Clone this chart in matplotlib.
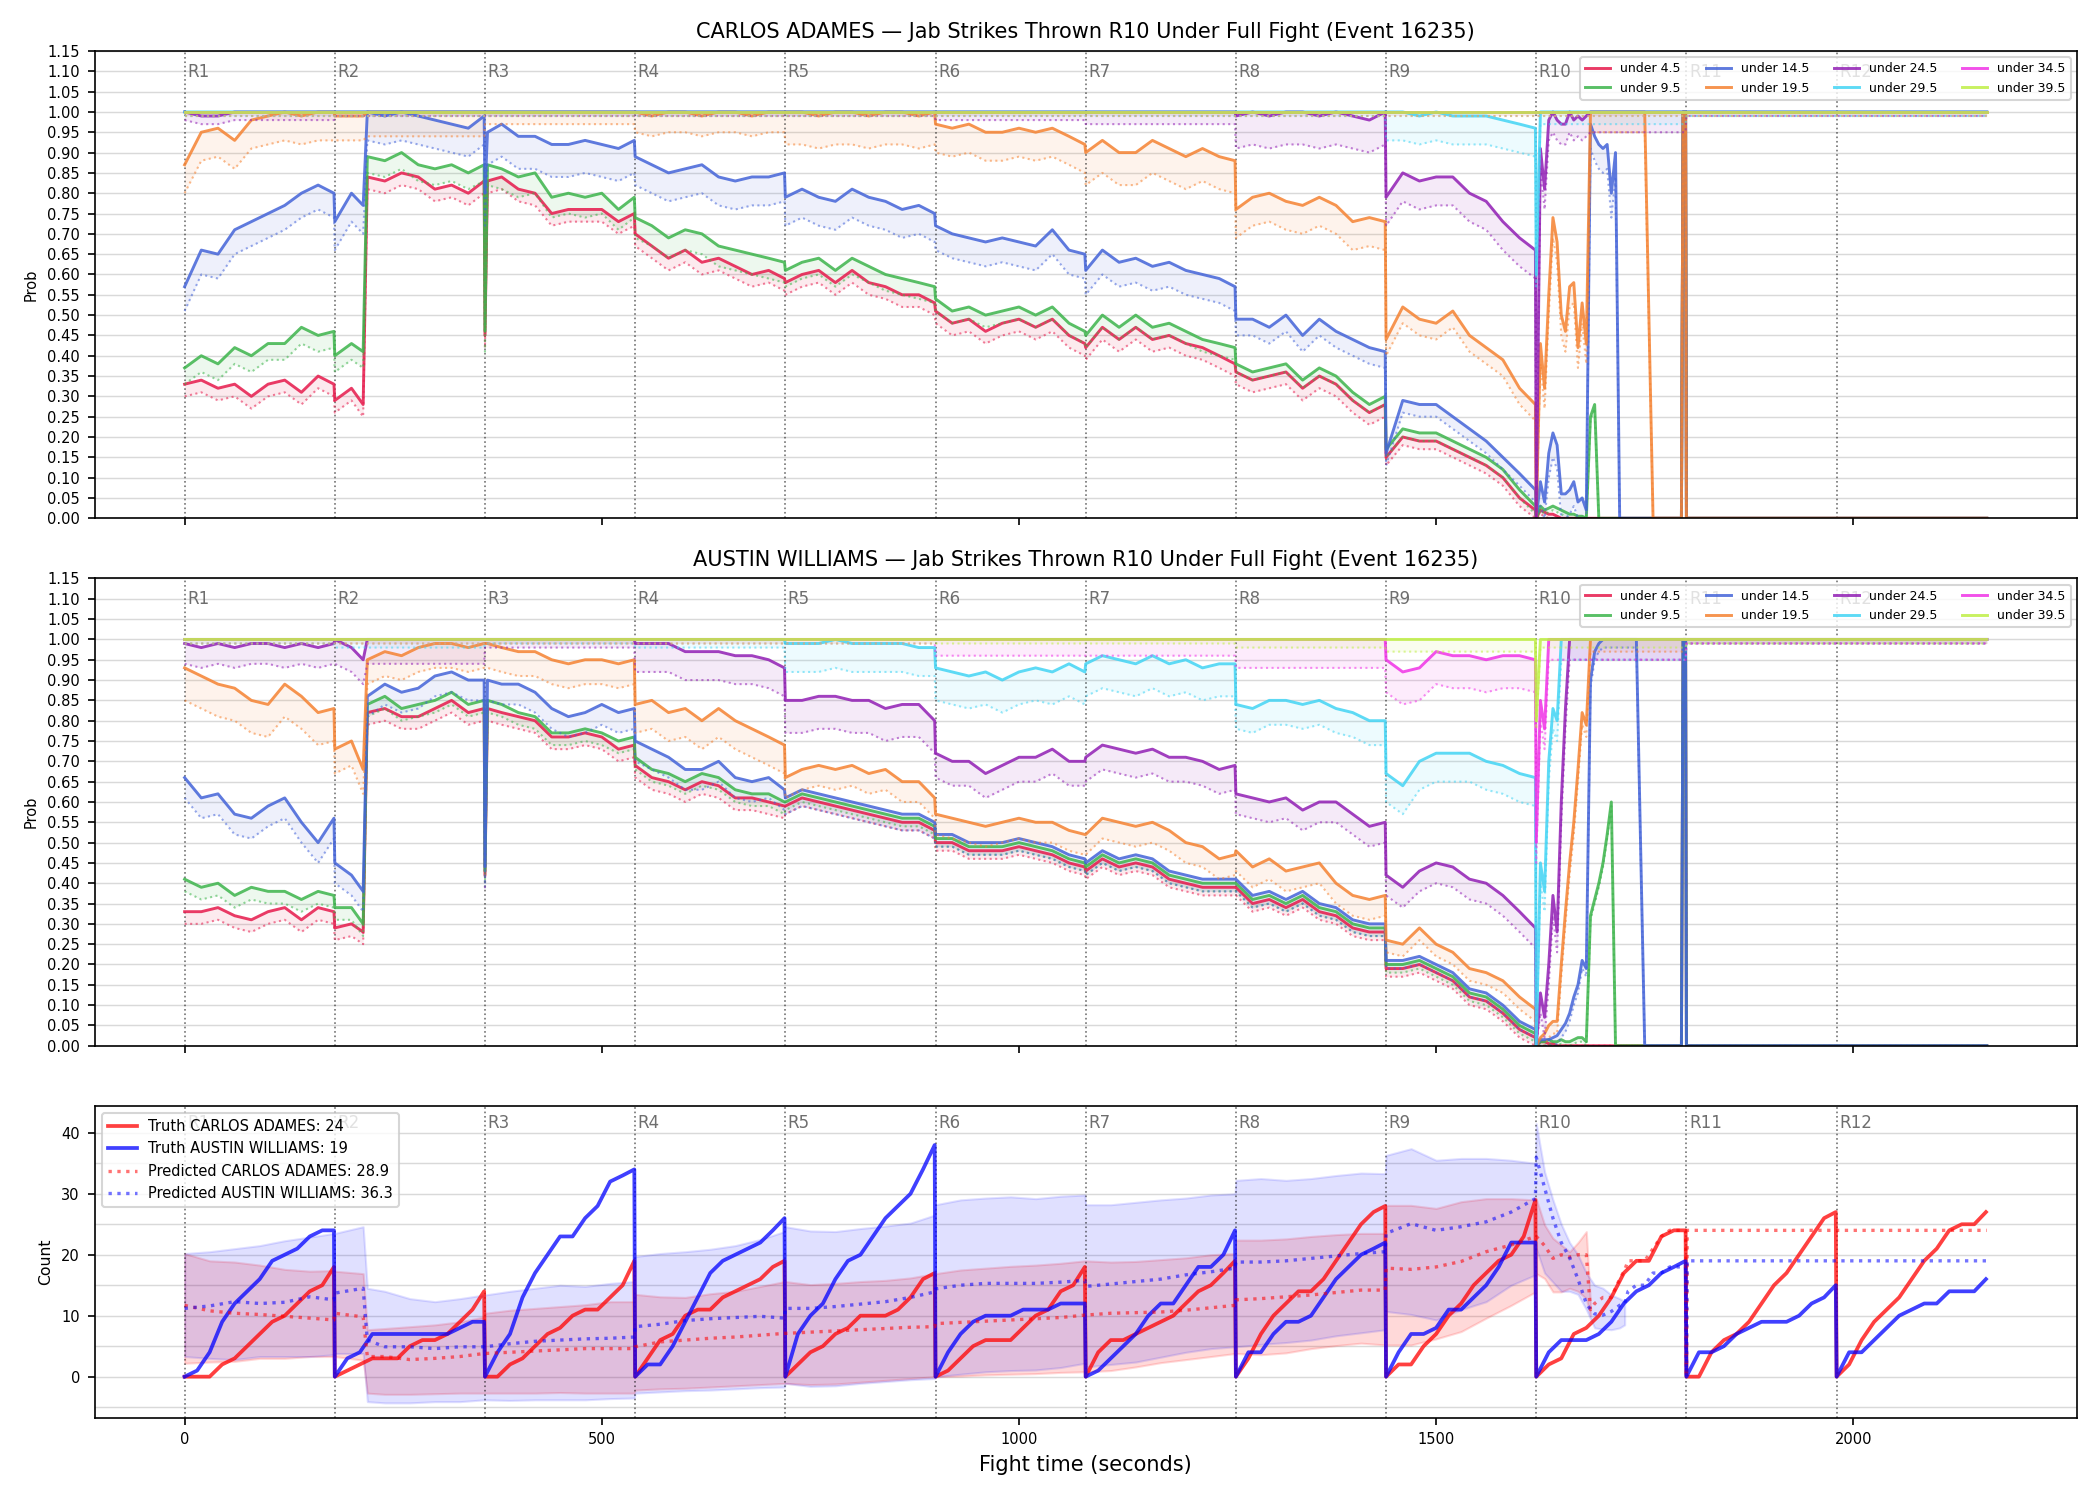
import numpy as np
import matplotlib.pyplot as plt
from matplotlib.ticker import MultipleLocator, FormatStrFormatter
from matplotlib.lines import Line2D

FIGHTER_A = 'CARLOS ADAMES'
FIGHTER_B = 'AUSTIN WILLIAMS'
TITLE_TAIL = 'Jab Strikes Thrown R10 Under Full Fight (Event 16235)'

ROUND_STARTS = [0, 180, 360, 540, 720, 900, 1080, 1260, 1440, 1620, 1800, 1980]
ROUND_LABELS = ['R1', 'R2', 'R3', 'R4', 'R5', 'R6', 'R7', 'R8', 'R9', 'R10', 'R11', 'R12']

THRESH_LABELS = ['under 4.5', 'under 9.5', 'under 14.5', 'under 19.5',
                 'under 24.5', 'under 29.5', 'under 34.5', 'under 39.5']
THRESH_COLORS = ['#e6194b', '#3cb44b', '#4363d8', '#f58231',
                 '#911eb4', '#42d4f4', '#f032e6', '#bfef45']

# sample times of the probability curves (s)
T_PROB = [
    0, 20, 40, 60, 80, 100, 120, 140, 160, 179,
    180, 200, 214, 219, 240, 260, 280, 300, 320, 340, 359,
    360, 363, 380, 400, 420, 440, 460, 480, 500, 520, 539,
    540, 560, 580, 600, 620, 640, 660, 680, 700, 719,
    720, 740, 760, 780, 800, 820, 840, 860, 880, 899,
    900, 920, 940, 960, 980, 1000, 1020, 1040, 1060, 1079,
    1080, 1100, 1120, 1140, 1160, 1180, 1200, 1220, 1240, 1259,
    1260, 1280, 1300, 1320, 1340, 1360, 1380, 1400, 1420, 1439,
    1440, 1460, 1480, 1500, 1520, 1540, 1560, 1580, 1600, 1619,
    1620, 1625, 1630, 1635, 1640, 1645, 1650, 1655, 1660, 1665, 1670, 1675, 1680,
    1685, 1690, 1695, 1700, 1705, 1710, 1715, 1720, 1730, 1740, 1750, 1760, 1770,
    1780, 1790, 1794, 1796, 1799,
    1800, 2160,
]

# ---- CARLOS ADAMES: P(R10 jabs under X) ----
c_u4 = [
    .33, .34, .32, .33, .30, .33, .34, .31, .35, .33,
    .29, .32, .28, .84, .83, .85, .84, .81, .82, .80, .83,
    .45, .83, .84, .81, .80, .75, .76, .76, .76, .73, .75,
    .70, .67, .64, .66, .63, .64, .62, .60, .61, .59,
    .58, .60, .61, .58, .61, .58, .57, .55, .55, .53,
    .51, .48, .49, .46, .48, .49, .47, .49, .45, .43,
    .42, .47, .44, .47, .44, .45, .43, .42, .40, .38,
    .36, .34, .35, .36, .32, .35, .33, .29, .26, .28,
    .15, .20, .19, .19, .17, .15, .13, .10, .05, .02,
    0, .02, .015, .01, .01, .005, 0, 0, 0, 0, 0, 0, 0,
    0, 0, 0, 0, 0, 0, 0, 0, 0, 0, 0, 0, 0,
    0, 0, 0, 1, 1,
    0, 0,
]
c_u9 = [
    .37, .40, .38, .42, .40, .43, .43, .47, .45, .46,
    .40, .43, .41, .89, .88, .90, .87, .86, .87, .85, .87,
    .46, .87, .86, .84, .85, .79, .80, .79, .80, .76, .79,
    .74, .72, .69, .71, .70, .67, .66, .65, .64, .63,
    .61, .63, .64, .61, .64, .62, .60, .59, .58, .57,
    .54, .51, .52, .50, .51, .52, .50, .52, .48, .46,
    .45, .50, .47, .50, .47, .48, .46, .44, .43, .42,
    .38, .36, .37, .38, .34, .37, .35, .31, .28, .30,
    .17, .22, .21, .21, .19, .17, .15, .12, .07, .03,
    0, .03, .02, .025, .03, .025, .02, .015, .01, .01, .005, .005, 0,
    .25, .28, 0, 0, 0, 0, 0, 0, 0, 0, 0, 0, 0,
    0, 0, 0, 1, 1,
    0, 0,
]
c_u14 = [
    .57, .66, .65, .71, .73, .75, .77, .80, .82, .80,
    .73, .80, .77, 1, .99, 1, .99, .98, .97, .96, .99,
    .80, .95, .97, .94, .94, .92, .92, .93, .92, .91, .93,
    .89, .87, .85, .86, .87, .84, .83, .84, .84, .85,
    .79, .81, .79, .78, .81, .79, .78, .76, .77, .75,
    .72, .70, .69, .68, .69, .68, .67, .71, .66, .65,
    .61, .66, .63, .64, .62, .63, .61, .60, .59, .57,
    .49, .49, .47, .50, .45, .49, .46, .44, .42, .41,
    .16, .29, .28, .28, .25, .22, .19, .15, .11, .07,
    0, .09, .04, .16, .21, .18, .06, .06, .07, .09, .04, .05, .02,
    .97, .94, .92, .91, .92, .80, .90, 0, 0, 0, 0, 0, 0,
    0, 0, 0, 1, 1,
    0, 0,
]
c_u19 = [
    .87, .95, .96, .93, .98, .99, 1, .99, 1, 1,
    .99, .99, .99, 1, 1, 1, 1, 1, 1, 1, 1,
    1, 1, 1, 1, 1, 1, 1, 1, 1, 1, 1,
    1, .99, 1, 1, .99, 1, 1, .99, 1, 1,
    1, 1, .99, 1, 1, .99, 1, 1, .99, 1,
    .97, .96, .97, .95, .95, .96, .95, .96, .94, .92,
    .90, .93, .90, .90, .93, .91, .89, .91, .89, .88,
    .76, .79, .80, .78, .77, .79, .77, .73, .74, .73,
    .44, .52, .49, .48, .51, .45, .42, .39, .32, .28,
    0, .43, .32, .55, .74, .68, .50, .46, .57, .58, .42, .53, .43,
    1, 1, 1, 1, 1, 1, 1, 1, 1, 1, 1, 0, 0,
    0, 0, 0, 1, 1,
    0, 0,
]
c_u24 = (
    [1, .99, .99, 1, 1, 1, 1, 1, 1, 1]
    + [1] * 62
    + [.99, 1, .99, 1, 1, .99, 1, .99, .98, 1]
    + [.79, .85, .83, .84, .84, .80, .78, .73, .69, .66]
    + [0, .91, .81, .98, 1, .98, .97, .97, 1, .98, .99, .98, .99]
    + [1] * 20
)
c_u29 = (
    [1] * 82
    + [1, 1, .99, 1, .99, .99, .99, .98, .97, .96]
    + [.6] + [1] * 32
)
c_u34 = [1] * 125
c_u39 = [1] * 125

# lower (dotted) band width per round R1..R11, Carlos
gc_u4 = [.03, .03, .03, .03, .03, .03, .03, .03, .02, .01, .01]
gc_u9 = [.04, .04, .05, .05, .04, .03, .03, .02, .02, .01, .01]
gc_u14 = [.06, .07, .08, .07, .07, .06, .06, .04, .03, .06, .01]
gc_u19 = [.07, .06, .03, .05, .08, .07, .08, .07, .04, .05, .01]
gc_u24 = [.02, .01, .01, .01, .01, .02, .03, .08, .07, .05, .01]
gc_u29 = [.01, .01, .01, .01, .01, .01, .01, .01, .07, .03, .01]
gc_u34 = [.01, .01, .01, .01, .01, .01, .01, .01, .01, .01, .01]
gc_u39 = [.01, .01, .01, .01, .01, .01, .01, .01, .01, .01, .01]

# ---- AUSTIN WILLIAMS: P(R10 jabs under X) ----
a_u4 = [
    .33, .33, .34, .32, .31, .33, .34, .31, .34, .33,
    .29, .30, .28, .82, .83, .81, .81, .83, .85, .82, .83,
    .42, .83, .82, .81, .80, .76, .76, .77, .76, .73, .74,
    .69, .66, .65, .63, .65, .64, .61, .61, .60, .59,
    .59, .61, .60, .59, .58, .57, .56, .55, .55, .53,
    .50, .50, .48, .48, .48, .49, .48, .47, .45, .44,
    .43, .46, .44, .45, .44, .41, .40, .39, .39, .39,
    .39, .35, .36, .34, .36, .33, .32, .29, .28, .28,
    .19, .19, .20, .18, .16, .12, .11, .08, .04, .02,
    0, .01, .01, .005, .005, 0, 0, 0, 0, 0, 0, 0, 0,
    0, 0, 0, 0, 0, 0, 0, 0, 0, 0, 0, 0, 0,
    0, 0, 0, 1, 1,
    0, 0,
]
a_u9 = [
    .41, .39, .40, .37, .39, .38, .38, .36, .38, .37,
    .34, .34, .30, .84, .86, .83, .84, .85, .87, .84, .85,
    .43, .85, .84, .82, .81, .77, .77, .78, .77, .75, .76,
    .71, .68, .67, .65, .67, .66, .63, .62, .62, .60,
    .60, .62, .61, .60, .59, .58, .57, .56, .56, .54,
    .51, .51, .49, .49, .49, .50, .49, .48, .46, .45,
    .44, .47, .45, .46, .45, .42, .41, .40, .40, .40,
    .40, .36, .37, .35, .37, .34, .33, .30, .29, .29,
    .20, .20, .21, .19, .17, .13, .12, .09, .05, .03,
    0, .01, .01, .015, .01, .01, .015, .01, .01, .015, .02, .02, .01,
    .32, .36, .40, .45, .52, .60, 0, 0, 0, 0, 0, 0, 0,
    0, 0, 0, 1, 1,
    0, 0,
]
a_u14 = [
    .66, .61, .62, .57, .56, .59, .61, .55, .50, .56,
    .45, .42, .38, .86, .89, .87, .88, .91, .92, .90, .90,
    .44, .90, .89, .89, .87, .83, .81, .82, .84, .82, .83,
    .75, .73, .71, .68, .68, .70, .66, .65, .66, .63,
    .61, .63, .62, .61, .60, .59, .58, .57, .57, .55,
    .52, .52, .50, .50, .50, .51, .50, .49, .47, .46,
    .45, .48, .46, .47, .46, .43, .42, .41, .41, .41,
    .41, .37, .38, .36, .38, .35, .34, .31, .30, .30,
    .21, .21, .22, .20, .18, .14, .13, .10, .06, .04,
    0, .015, .015, .015, .02, .025, .04, .055, .08, .12, .15, .21, .19,
    .90, .97, .99, 1, 1, 1, 1, 1, 1, 1, 0, 0, 0,
    0, 0, 0, 1, 1,
    0, 0,
]
a_u19 = [
    .93, .91, .89, .88, .85, .84, .89, .86, .82, .83,
    .73, .75, .68, .95, .97, .96, .98, .99, .99, .98, .99,
    .99, .99, .98, .97, .97, .95, .94, .95, .95, .94, .95,
    .84, .85, .82, .83, .80, .83, .80, .78, .76, .74,
    .66, .68, .69, .68, .69, .67, .68, .65, .65, .61,
    .57, .56, .55, .54, .55, .56, .55, .55, .53, .52,
    .52, .56, .55, .54, .55, .53, .50, .49, .46, .47,
    .48, .44, .46, .43, .44, .45, .40, .37, .36, .37,
    .26, .25, .29, .25, .23, .19, .18, .16, .12, .09,
    0, .02, .03, .05, .06, .06, .20, .33, .45, .55, .68, .82, .79,
    1, 1, 1, 1, 1, 1, 1, 1, 1, 1, 1, 1, 1,
    1, 1, 1, 1, 1,
    1, 1,
]
a_u24 = (
    [.99, .98, .99, .98, .99, .99, .98, .99, .98, .99]
    + [1, .98, .95, 1, 1, 1, 1, 1, 1, 1, 1]
    + [1] * 11
    + [.99, .99, .99, .97, .97, .97, .96, .96, .95, .93]
    + [.85, .85, .86, .86, .85, .85, .83, .84, .84, .80]
    + [.72, .70, .70, .67, .69, .71, .71, .73, .70, .70]
    + [.71, .74, .73, .72, .73, .71, .71, .70, .68, .69]
    + [.62, .61, .60, .61, .58, .60, .60, .57, .54, .55]
    + [.42, .39, .43, .45, .44, .41, .40, .37, .33, .29]
    + [0, .13, .07, .20, .37, .28, .60, .83] + [1] * 23
    + [1, 1]
)
a_u29 = (
    [1] * 42
    + [.99, .99, .99, 1, .99, .99, .99, .99, .98, .98]
    + [.93, .92, .91, .92, .90, .92, .93, .92, .94, .92]
    + [.94, .96, .95, .94, .96, .94, .95, .93, .94, .94]
    + [.84, .83, .85, .85, .84, .85, .83, .82, .80, .80]
    + [.67, .64, .70, .72, .72, .72, .70, .69, .67, .66]
    + [0, .45, .38, .70, .83, .80] + [1] * 25
    + [1, 1]
)
a_u34 = (
    [1] * 82
    + [.95, .92, .93, .97, .96, .96, .95, .96, .96, .95]
    + [.5, .85, .78] + [1] * 28
    + [1, 1]
)
a_u39 = [1] * 92 + [.8] + [1] * 32

ga_u4 = [.03, .03, .03, .03, .02, .02, .02, .02, .02, .01, .01]
ga_u9 = [.03, .03, .03, .03, .02, .02, .02, .02, .02, .01, .01]
ga_u14 = [.05, .05, .05, .05, .04, .03, .03, .03, .02, .02, .01]
ga_u19 = [.08, .06, .06, .07, .05, .05, .05, .05, .03, .03, .01]
ga_u24 = [.05, .06, .02, .07, .08, .06, .06, .05, .05, .05, .01]
ga_u29 = [.01, .02, .01, .02, .07, .08, .08, .06, .07, .05, .01]
ga_u34 = [.01, .01, .01, .01, .01, .04, .04, .07, .08, .05, .01]
ga_u39 = [.01, .01, .01, .01, .01, .01, .01, .02, .03, .02, .01]

# ---- counts panel ----
TRUTH_OFFSETS = [0, 15, 30, 45, 60, 75, 90, 105, 120, 135, 150, 165, 179]
truth_a = [
    0, 0, 0, 2, 3, 5, 7, 9, 10, 12, 14, 15, 18,
    0, 1, 2, 3, 3, 3, 5, 6, 6, 7, 9, 11, 14,
    0, 0, 2, 3, 5, 7, 8, 10, 11, 11, 13, 15, 19,
    0, 3, 6, 7, 10, 11, 11, 13, 14, 15, 16, 18, 19,
    0, 2, 4, 5, 7, 8, 10, 10, 10, 11, 13, 16, 17,
    0, 1, 3, 5, 6, 6, 6, 8, 10, 11, 14, 15, 18,
    0, 4, 6, 6, 7, 8, 9, 10, 12, 14, 15, 17, 19,
    0, 3, 7, 10, 12, 14, 14, 16, 19, 22, 25, 27, 28,
    0, 2, 2, 5, 7, 10, 12, 15, 17, 19, 20, 23, 29,
    0, 2, 3, 7, 8, 10, 13, 17, 19, 19, 23, 24, 24,
    0, 0, 4, 6, 7, 9, 12, 15, 17, 20, 23, 26, 27,
    0, 2, 6, 9, 11, 13, 16, 19, 21, 24, 25, 25, 27,
]
truth_b = [
    0, 1, 4, 9, 12, 14, 16, 19, 20, 21, 23, 24, 24,
    0, 3, 4, 7, 7, 7, 7, 7, 7, 7, 8, 9, 9,
    0, 4, 7, 13, 17, 20, 23, 23, 26, 28, 32, 33, 34,
    0, 2, 2, 5, 9, 13, 17, 19, 20, 21, 22, 24, 26,
    0, 7, 10, 12, 16, 19, 20, 23, 26, 28, 30, 34, 38,
    0, 4, 7, 9, 10, 10, 10, 11, 11, 11, 12, 12, 12,
    0, 1, 3, 5, 7, 10, 12, 12, 15, 18, 18, 20, 24,
    0, 4, 4, 7, 9, 9, 10, 13, 16, 18, 20, 21, 22,
    0, 4, 7, 7, 8, 11, 11, 13, 15, 18, 22, 22, 22,
    0, 4, 6, 6, 6, 7, 9, 12, 14, 15, 17, 18, 19,
    0, 4, 4, 5, 7, 8, 9, 9, 9, 10, 12, 13, 15,
    0, 4, 4, 6, 8, 10, 11, 12, 12, 14, 14, 14, 16,
]

nan = np.nan
T_PRED = [
    0, 30, 60, 90, 120, 150, 179,
    180, 214, 219, 240, 270, 300, 330, 359,
    360, 390, 420, 450, 480, 510, 539,
    540, 570, 600, 630, 660, 690, 719,
    720, 750, 780, 810, 840, 870, 899,
    900, 930, 960, 990, 1020, 1050, 1079,
    1080, 1110, 1140, 1170, 1200, 1230, 1259,
    1260, 1290, 1320, 1350, 1380, 1410, 1439,
    1440, 1470, 1500, 1530, 1560, 1590, 1619,
    1620, 1630, 1640, 1650, 1660, 1670, 1680, 1685, 1690, 1700, 1710,
    1720, 1726, 1730, 1740, 1750, 1760, 1770, 1780, 1790, 1799,
    1800, 1801, 2160,
]
pred_a = [
    11.7, 10.8, 10.4, 10.2, 9.9, 9.6, 9.3,
    10.4, 9.8, 3.3, 3.3, 2.8, 3.0, 3.3, 3.8,
    3.8, 4.0, 4.2, 4.4, 4.6, 4.6, 4.6,
    4.9, 5.7, 6.0, 6.3, 6.5, 6.8, 7.1,
    7.1, 7.3, 7.5, 7.7, 7.9, 8.1, 8.2,
    8.7, 8.9, 9.1, 9.3, 9.5, 9.7, 10.1,
    10.1, 10.4, 10.5, 10.6, 10.9, 11.3, 11.7,
    12.6, 12.8, 13.1, 13.4, 13.8, 14.2, 14.2,
    17.8, 17.6, 18.0, 18.9, 20.5, 21.6, 23.0,
    23.0, 21.5, 19.4, 20.0, 19.6, 20.0, 20.0, 11.0, 12.0, 13.0, 13.0,
    16.0, 17.5, 19.0, 19.0, 19.0, 21.0, 23.0, 24.0, 24.0, 24.0,
    0, 24, 24,
]
pred_a_hi = [
    20.2, 19.0, 18.8, 18.3, 17.6, 17.3, 17.4,
    17.3, 16.9, 7.7, 7.9, 8.2, 8.5, 9.0, 9.8,
    10.4, 10.9, 11.2, 11.5, 11.8, 12.3, 12.3,
    13.5, 13.1, 13.0, 13.6, 14.0, 14.8, 15.6,
    15.6, 15.1, 15.3, 15.6, 15.8, 16.2, 16.9,
    16.9, 17.5, 17.8, 18.1, 18.3, 18.6, 19.0,
    19.0, 18.8, 18.9, 19.2, 19.5, 20.0, 20.2,
    22.4, 22.4, 22.6, 23.0, 23.3, 23.5, 23.5,
    28.1, 28.1, 27.6, 28.7, 29.2, 29.2, 29.0,
    29.2, 24.9, 22.7, 21.6, 20.5, 22.0, 23.8, 12.0, nan, nan, nan,
    nan, nan, nan, nan, nan, nan, nan, nan, nan, nan,
    nan, nan, nan,
]
pred_a_lo = [
    2.2, 2.4, 2.5, 3.0, 3.0, 3.3, 3.3,
    3.3, 2.7, -2.7, -2.9, -2.9, -2.8, -2.7, -2.7,
    -2.7, -2.7, -2.7, -2.6, -2.7, -2.7, -2.7,
    -2.2, -2.0, -1.9, -1.7, -1.5, -1.3, -1.1,
    -1.1, -1.3, -1.2, -0.9, -0.6, -0.3, 0.0,
    0.0, 0.1, 0.3, 0.4, 0.5, 0.7, 0.8,
    0.8, 1.0, 1.6, 2.3, 2.8, 3.3, 3.8,
    3.8, 3.6, 3.9, 4.6, 5.1, 5.5, 5.2,
    5.2, 5.2, 6.2, 7.4, 9.6, 11.7, 13.9,
    16.9, 16.1, 13.9, 13.9, 14.5, 14.0, 12.8, 10.0, nan, nan, nan,
    nan, nan, nan, nan, nan, nan, nan, nan, nan, nan,
    nan, nan, nan,
]
pred_b = [
    11.2, 11.6, 12.3, 12.0, 12.2, 13.1, 12.6,
    13.7, 14.5, 6.0, 4.9, 4.9, 4.6, 4.9, 4.9,
    4.9, 5.4, 5.8, 6.0, 6.2, 6.3, 6.5,
    8.2, 8.6, 9.2, 9.5, 9.7, 9.9, 9.6,
    11.2, 11.2, 11.5, 11.9, 12.3, 13.0, 13.9,
    14.4, 15.0, 15.3, 15.3, 15.3, 15.5, 15.8,
    14.8, 15.2, 15.6, 16.0, 16.7, 17.2, 17.8,
    18.8, 18.8, 19.0, 19.4, 19.8, 20.2, 20.5,
    23.5, 25.1, 24.0, 24.6, 25.4, 27.0, 29.2,
    36.0, 31.0, 26.0, 22.0, 19.5, 16.0, 12.0, 11.0, 10.3, 10.1, 10.7,
    11.7, 12.0, 14.0, 15.0, 15.0, 17.0, 17.0, 18.0, 18.0, 18.0,
    0, 19, 19,
]
pred_b_hi = [
    20.2, 20.5, 21.0, 21.5, 22.3, 22.9, 23.5,
    23.5, 24.6, 14.5, 14.0, 12.8, 12.3, 12.8, 13.4,
    13.4, 14.0, 14.5, 15.0, 14.8, 15.3, 15.6,
    19.7, 20.2, 20.5, 20.9, 21.5, 22.5, 23.8,
    24.6, 23.9, 23.8, 24.3, 24.7, 25.2, 26.5,
    28.2, 29.0, 29.3, 29.5, 29.2, 29.6, 29.8,
    28.2, 28.2, 28.6, 29.0, 29.3, 29.8, 30.0,
    32.2, 32.5, 32.2, 32.5, 33.0, 33.4, 33.3,
    36.3, 37.4, 35.5, 35.8, 35.8, 35.5, 35.0,
    41.5, 33.6, 29.0, 25.0, 22.0, 20.0, 17.0, 16.0, 15.0, 14.5, 13.4,
    12.8, 12.3, nan, nan, nan, nan, nan, nan, nan, nan,
    nan, nan, nan,
]
pred_b_lo = [
    3.3, 3.0, 2.8, 3.3, 3.3, 3.3, 3.6,
    3.8, 3.8, -4.1, -4.3, -4.3, -4.1, -4.1, -3.8,
    -3.8, -3.9, -3.8, -3.8, -3.8, -3.6, -3.5,
    -2.7, -2.5, -2.3, -2.2, -2.0, -1.8, -1.7,
    -1.1, -1.6, -1.5, -1.1, -0.8, -0.5, -0.3,
    0.0, 0.4, 0.8, 1.0, 1.1, 1.5, 2.2,
    1.6, 2.0, 2.4, 3.2, 4.0, 4.6, 4.9,
    4.9, 5.3, 5.6, 6.0, 6.7, 7.2, 7.7,
    10.7, 10.2, 9.3, 11.0, 12.3, 15.0, 16.7,
    21.0, 17.0, 15.5, 14.0, 14.0, 13.5, 11.0, 9.5, 8.0, 7.8, 7.7,
    8.0, 8.5, nan, nan, nan, nan, nan, nan, nan, nan,
    nan, nan, nan,
]
FINAL_TRUTH_A = 24
FINAL_TRUTH_B = 19
FINAL_PRED_A = 28.9
FINAL_PRED_B = 36.3


def add_rounds(ax):
    for x, lab in zip(ROUND_STARTS, ROUND_LABELS):
        ax.axvline(x, color='k', ls=':', lw=0.8, alpha=0.55, zorder=1)
        ax.text(x + 3, 0.975, lab, transform=ax.get_xaxis_transform(),
                va='top', ha='left', fontsize=8, color='#555555', alpha=0.85)


def draw_probs(ax, curves, gaps, name):
    t = np.array(T_PROB, dtype=float)
    rnd = np.minimum(t // 180, 10).astype(int)
    for lab, col, vals, gap in zip(THRESH_LABELS, THRESH_COLORS, curves, gaps):
        hi = np.array(vals, dtype=float)
        lo = np.clip(hi - np.array(gap)[rnd], 0, None)
        ax.fill_between(t, lo, hi, color=col, alpha=0.09, lw=0)
        ax.plot(t, lo, color=col, ls=':', lw=1.0, alpha=0.55)
        ax.plot(t, hi, color=col, lw=1.4, alpha=0.85, label=lab)
    ax.set_ylim(0, 1.15)
    ax.yaxis.set_major_locator(MultipleLocator(0.05))
    ax.yaxis.set_major_formatter(FormatStrFormatter('%.2f'))
    ax.grid(axis='y', color='#d9d9d9', lw=0.7)
    ax.set_axisbelow(True)
    ax.set_ylabel('Prob', fontsize=7)
    ax.tick_params(labelsize=7)
    ax.set_title(f'{name} \u2014 {TITLE_TAIL}', fontsize=10)
    add_rounds(ax)
    ax.legend(loc='upper right', ncol=4, fontsize=6, framealpha=0.8)


fig, axes = plt.subplots(3, 1, figsize=(14, 10), dpi=150, sharex=True,
                         gridspec_kw={'height_ratios': [3, 3, 2]})
fig.subplots_adjust(left=0.045, right=0.989, top=0.966, bottom=0.055, hspace=0.145)

draw_probs(axes[0], [c_u4, c_u9, c_u14, c_u19, c_u24, c_u29, c_u34, c_u39],
           [gc_u4, gc_u9, gc_u14, gc_u19, gc_u24, gc_u29, gc_u34, gc_u39], FIGHTER_A)
draw_probs(axes[1], [a_u4, a_u9, a_u14, a_u19, a_u24, a_u29, a_u34, a_u39],
           [ga_u4, ga_u9, ga_u14, ga_u19, ga_u24, ga_u29, ga_u34, ga_u39], FIGHTER_B)

# counts panel
ax = axes[2]
t_truth = np.concatenate([s + np.array(TRUTH_OFFSETS) for s in ROUND_STARTS])
tp = np.array(T_PRED, dtype=float)
ax.fill_between(tp, pred_a_lo, pred_a_hi, color='red', alpha=0.15)
ax.fill_between(tp, pred_b_lo, pred_b_hi, color='blue', alpha=0.12)
ax.plot(t_truth, truth_a, color='red', lw=1.8, alpha=0.75)
ax.plot(t_truth, truth_b, color='blue', lw=1.8, alpha=0.75)
ax.plot(tp, pred_a, color='red', ls=':', lw=1.6, alpha=0.55)
ax.plot(tp, pred_b, color='blue', ls=':', lw=1.6, alpha=0.55)
ax.set_ylim(-6.7, 44.4)
ax.yaxis.set_major_locator(MultipleLocator(10))
ax.yaxis.set_minor_locator(MultipleLocator(5))
ax.tick_params(axis='y', which='minor', length=0)
ax.grid(axis='y', which='both', color='#d9d9d9', lw=0.7)
ax.set_axisbelow(True)
ax.tick_params(labelsize=7)
ax.set_ylabel('Count', fontsize=7.5)
ax.set_xlabel('Fight time (seconds)', fontsize=10)
add_rounds(ax)
handles = [
    Line2D([], [], color='red', lw=1.8, alpha=0.75),
    Line2D([], [], color='blue', lw=1.8, alpha=0.75),
    Line2D([], [], color='red', ls=':', lw=1.6, alpha=0.55),
    Line2D([], [], color='blue', ls=':', lw=1.6, alpha=0.55),
]
labels = [
    f'Truth {FIGHTER_A}: {FINAL_TRUTH_A}',
    f'Truth {FIGHTER_B}: {FINAL_TRUTH_B}',
    f'Predicted {FIGHTER_A}: {FINAL_PRED_A}',
    f'Predicted {FIGHTER_B}: {FINAL_PRED_B}',
]
ax.legend(handles, labels, loc='upper left', fontsize=7, framealpha=0.8)

fig.savefig('out.png', dpi=150)
